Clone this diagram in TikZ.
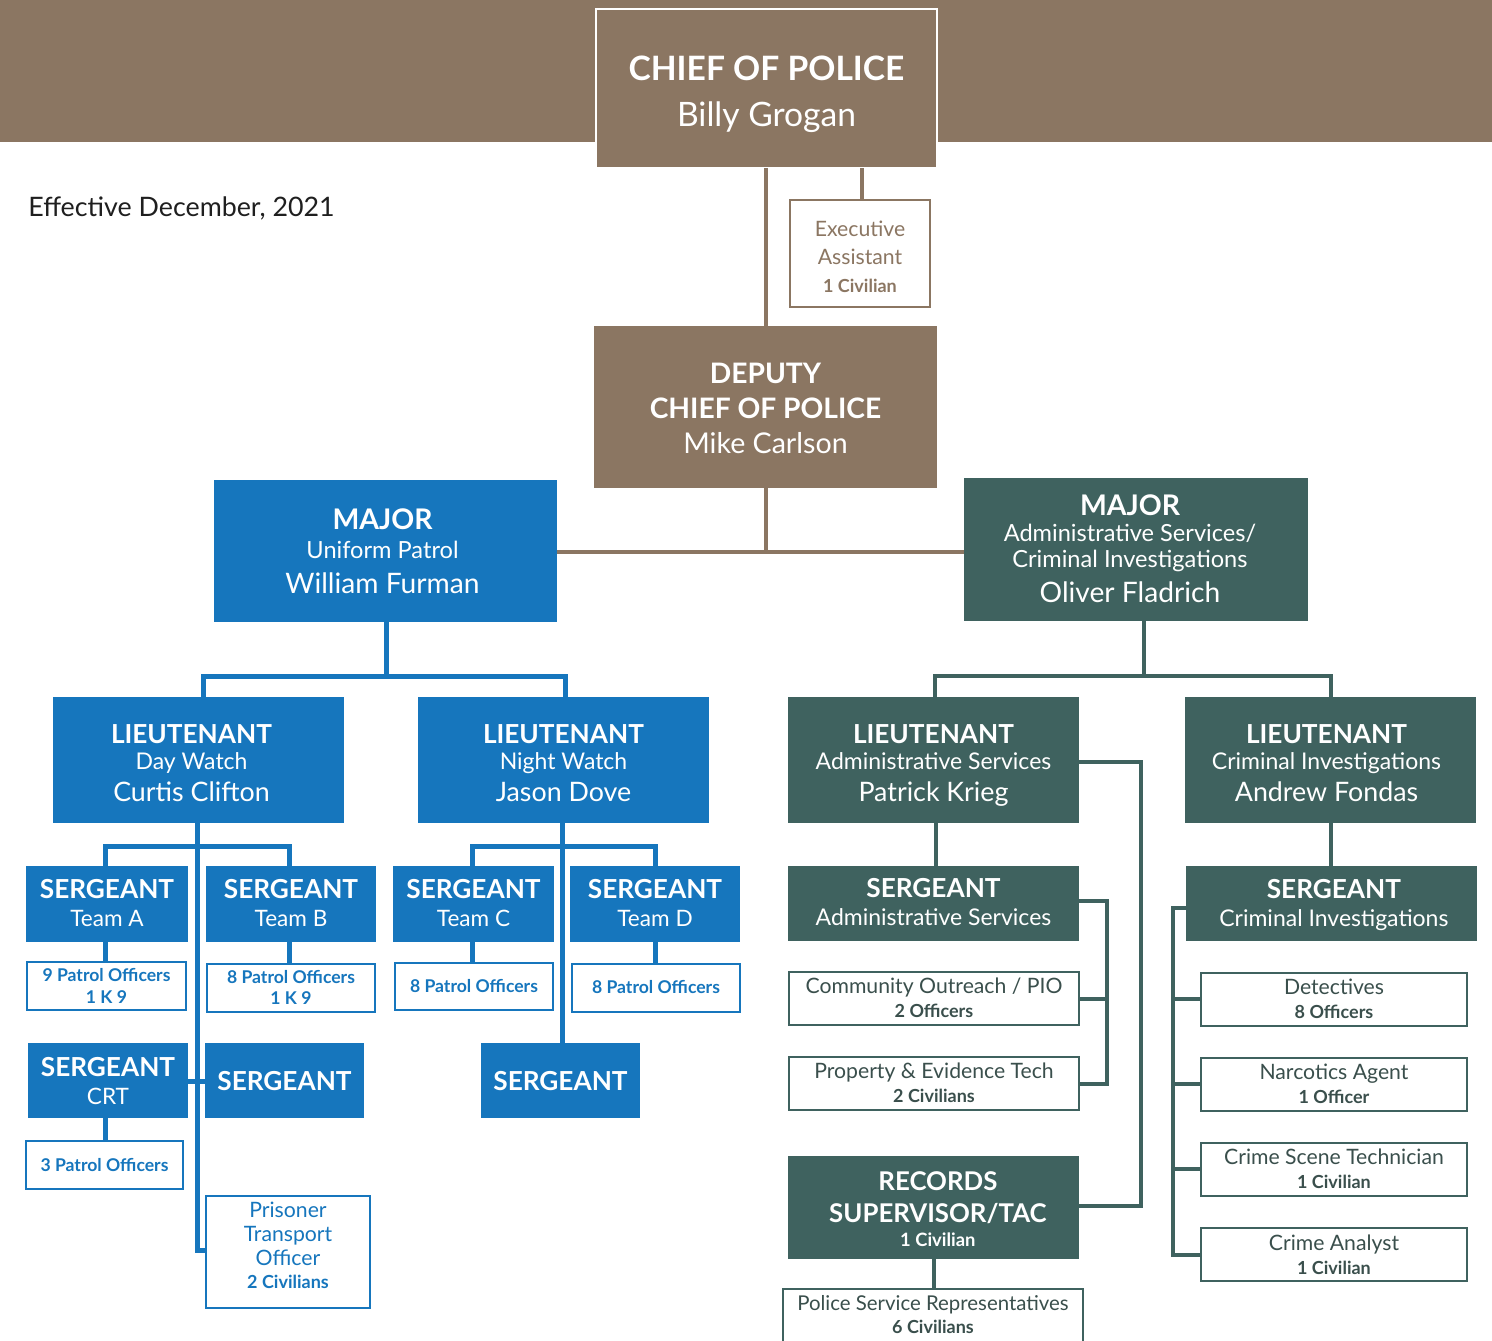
\documentclass[tikz,border=0pt]{standalone}
\usepackage{fontspec}
\setmainfont{Lato}
\definecolor{brn}{HTML}{8B7662}
\definecolor{blu}{HTML}{1676BD}
\definecolor{grn}{HTML}{3F625F}
\definecolor{grntxt}{HTML}{3A4F4C}
\newcommand\bx[6]{\node[#2, minimum width={(#5-#3)*0.5pt}, minimum height={(#6-#4)*0.5pt}] (#1) at ({(#3+#5)/2},{(#4+#6)/2}) {};}
\newcommand\tx[5]{\node[#2] (#1) at (#3.center |- 0,#4) {#5};}
\begin{document}
\begin{tikzpicture}[x=0.5pt,y=-0.5pt,
  box/.style={rectangle, inner sep=0pt, outer sep=0pt},
  fbrown/.style={box, fill=brn},
  fblue/.style={box, fill=blu},
  fgreen/.style={box, fill=grn},
  oblue/.style={box, draw=blu, line width=0.9pt, fill=white},
  ogreen/.style={box, draw=grn, line width=0.9pt, fill=white},
  obrown/.style={box, draw=brn, line width=1pt, fill=white},
  fs/.style={font={\fontsize{#1}{#1}\selectfont}, text height={0.72*#1pt}, text depth=0pt, inner sep=0pt, anchor=center},
  fb/.style={font={\fontsize{#1}{#1}\selectfont\bfseries}, text height={0.72*#1pt}, text depth=0pt, inner sep=0pt, anchor=center},
  lbrown/.style={draw=brn, line width=2pt},
  lblue/.style={draw=blu, line width=2.5pt},
  lgreen/.style={draw=grn, line width=2.4pt},
]
\useasboundingbox (0,0) rectangle (1492,1340);
\fill[brn] (0,0) rectangle (1492,142);

% ---------- boxes ----------
\bx{chief}{fbrown, draw=white, line width=1pt}{596}{9}{937}{168}
\bx{exec}{obrown}{790}{200}{930}{307}
\bx{deputy}{fbrown}{594}{326}{937}{488}
\bx{majL}{fblue}{214}{480}{557}{622}
\bx{majR}{fgreen}{964}{478}{1308}{621}
\bx{ltDay}{fblue}{53}{697}{344}{823}
\bx{ltNight}{fblue}{418}{697}{709}{823}
\bx{ltAdm}{fgreen}{788}{697}{1079}{823}
\bx{ltCrim}{fgreen}{1185}{697}{1476}{823}
\bx{sgtA}{fblue}{26}{866}{188}{942}
\bx{sgtB}{fblue}{206}{866}{376}{942}
\bx{sgtC}{fblue}{393}{866}{554}{942}
\bx{sgtD}{fblue}{570}{866}{740}{942}
\bx{pA}{oblue}{27}{962}{186}{1010}
\bx{pB}{oblue}{207}{964}{375}{1012}
\bx{pC}{oblue}{395}{963}{553}{1010}
\bx{pD}{oblue}{572}{964}{740}{1012}
\bx{sgtCRT}{fblue}{28}{1043}{188}{1118}
\bx{sgtX}{fblue}{205}{1043}{364}{1118}
\bx{sgtY}{fblue}{481}{1043}{640}{1118}
\bx{pCRT}{oblue}{26}{1141}{183}{1189}
\bx{prisoner}{oblue}{206}{1196}{370}{1308}
\bx{sgtAdm}{fgreen}{788}{866}{1079}{941}
\bx{community}{ogreen}{789}{972}{1079}{1025}
\bx{property}{ogreen}{789}{1057}{1079}{1110}
\bx{records}{fgreen}{788}{1156}{1079}{1259}
\bx{psr}{ogreen}{783}{1289}{1083}{1360}
\bx{sgtCrim}{fgreen}{1186}{866}{1477}{941}
\bx{det}{ogreen}{1201}{973}{1467}{1026}
\bx{narc}{ogreen}{1201}{1058}{1467}{1111}
\bx{cst}{ogreen}{1201}{1143}{1467}{1196}
\bx{analyst}{ogreen}{1201}{1228}{1467}{1281}

% ---------- connectors ----------
\draw[lbrown] (chief.south -| 766,0) -- (deputy.north -| 766,0);
\draw[lbrown] (chief.south -| 862,0) -- (exec.north -| 862,0);
\draw[lbrown] (deputy.south -| 766,0) -- (766,552);
\draw[lbrown] (majL.east |- 0,552) -- (majR.west |- 0,552);

\draw[lblue] (majL.south -| 386,0) -- (386,676);
\draw[lblue] (ltDay.north -| 203,0) -- (203,676) -- (565,676) -- (ltNight.north -| 565,0);
\draw[lblue] (ltDay.south -| 197,0) -- (197,1250) -- (prisoner.west |- 0,1250);
\draw[lblue] (sgtA.north -| 105,0) -- (105,846) -- (289,846) -- (sgtB.north -| 289,0);
\draw[lblue] (sgtA.south -| 105,0) -- (pA.north -| 105,0);
\draw[lblue] (sgtB.south -| 289,0) -- (pB.north -| 289,0);
\draw[lblue] (sgtCRT.east |- 0,1081) -- (sgtX.west |- 0,1081);
\draw[lblue] (sgtCRT.south -| 105,0) -- (pCRT.north -| 105,0);
\draw[lblue] (ltNight.south -| 562,0) -- (sgtY.north -| 562,0);
\draw[lblue] (sgtC.north -| 472,0) -- (472,846) -- (655,846) -- (sgtD.north -| 655,0);
\draw[lblue] (sgtC.south -| 472,0) -- (pC.north -| 472,0);
\draw[lblue] (sgtD.south -| 655,0) -- (pD.north -| 655,0);

\draw[lgreen] (majR.south -| 1144,0) -- (1144,676);
\draw[lgreen] (ltAdm.north -| 935,0) -- (935,676) -- (1331,676) -- (ltCrim.north -| 1331,0);
\draw[lgreen] (ltAdm.east |- 0,762) -- (1141,762) -- (1141,1206) -- (records.east |- 0,1206);
\draw[lgreen] (ltAdm.south -| 936,0) -- (sgtAdm.north -| 936,0);
\draw[lgreen] (sgtAdm.east |- 0,901) -- (1107,901) -- (1107,1084) -- (property.east |- 0,1084);
\draw[lgreen] (1107,999) -- (community.east |- 0,999);
\draw[lgreen] (records.south -| 934,0) -- (psr.north -| 934,0);
\draw[lgreen] (ltCrim.south -| 1331,0) -- (sgtCrim.north -| 1331,0);
\draw[lgreen] (sgtCrim.west |- 0,908) -- (1173,908) -- (1173,1255) -- (analyst.west |- 0,1255);
\draw[lgreen] (1173,999) -- (det.west |- 0,999);
\draw[lgreen] (1173,1084) -- (narc.west |- 0,1084);
\draw[lgreen] (1173,1169) -- (cst.west |- 0,1169);

% ---------- texts ----------
\node[fs=13.4, anchor=west, text=black!88] (eff) at (28,207) {Effective December, 2021};

\tx{chief1}{fb=16.8, text=white}{chief}{68}{CHIEF OF POLICE}
\tx{chief2}{fs=16.8, text=white}{chief}{114}{Billy Grogan}
\tx{exec1}{fs=10.6, text=brn}{exec}{229}{Executive}
\tx{exec2}{fs=10.6, text=brn}{exec}{257}{Assistant}
\tx{exec3}{fb=9, text=brn}{exec}{286}{1 Civilian}
\tx{dep1}{fb=14.1, text=white}{deputy}{373}{DEPUTY}
\tx{dep2}{fb=14.1, text=white}{deputy}{408}{CHIEF OF POLICE}
\tx{dep3}{fs=14.3, text=white}{deputy}{443}{Mike Carlson}

\tx{majL1}{fb=14.2, text=white, xshift=-1.5pt}{majL}{519}{MAJOR}
\tx{majL2}{fs=11.8, text=white, xshift=-1.5pt}{majL}{550}{Uniform Patrol}
\tx{majL3}{fs=14.1, text=white, xshift=-1.5pt}{majL}{583}{William Furman}
\tx{majR1}{fb=14.2, text=white, xshift=-3pt}{majR}{505}{MAJOR}
\tx{majR2}{fs=11.8, text=white, xshift=-3pt}{majR}{533}{Administrative Services/}
\tx{majR3}{fs=11.8, text=white, xshift=-3pt}{majR}{559}{Criminal Investigations}
\tx{majR4}{fs=14.1, text=white, xshift=-3pt}{majR}{592}{Oliver Fladrich}

\tx{ltDay1}{fb=13.1, text=white, xshift=-3.5pt}{ltDay}{734}{LIEUTENANT}
\tx{ltDay2}{fs=11.5, text=white, xshift=-3.5pt}{ltDay}{761}{Day Watch}
\tx{ltDay3}{fs=13.4, text=white, xshift=-3.5pt}{ltDay}{792}{Curtis Clifton}
\tx{ltNight1}{fb=13.1, text=white}{ltNight}{734}{LIEUTENANT}
\tx{ltNight2}{fs=11.5, text=white}{ltNight}{761}{Night Watch}
\tx{ltNight3}{fs=13.4, text=white}{ltNight}{792}{Jason Dove}
\tx{ltAdm1}{fb=13.1, text=white}{ltAdm}{734}{LIEUTENANT}
\tx{ltAdm2}{fs=11.5, text=white}{ltAdm}{761}{Administrative Services}
\tx{ltAdm3}{fs=13.4, text=white}{ltAdm}{792}{Patrick Krieg}
\tx{ltCrim1}{fb=13.1, text=white, xshift=-2pt}{ltCrim}{734}{LIEUTENANT}
\tx{ltCrim2}{fs=11.5, text=white, xshift=-2pt}{ltCrim}{761}{Criminal Investigations}
\tx{ltCrim3}{fs=13.4, text=white, xshift=-2pt}{ltCrim}{792}{Andrew Fondas}

\tx{sgtA1}{fb=13.1, text=white}{sgtA}{889}{SERGEANT}
\tx{sgtA2}{fs=11.3, text=white}{sgtA}{918}{Team A}
\tx{sgtB1}{fb=13.1, text=white}{sgtB}{889}{SERGEANT}
\tx{sgtB2}{fs=11.3, text=white}{sgtB}{918}{Team B}
\tx{sgtC1}{fb=13.1, text=white}{sgtC}{889}{SERGEANT}
\tx{sgtC2}{fs=11.3, text=white}{sgtC}{918}{Team C}
\tx{sgtD1}{fb=13.1, text=white}{sgtD}{889}{SERGEANT}
\tx{sgtD2}{fs=11.3, text=white}{sgtD}{918}{Team D}

\tx{pA1}{fb=8.8, text=blu}{pA}{975}{9 Patrol Officers}
\tx{pA2}{fb=8.8, text=blu}{pA}{997}{1 K 9}
\tx{pB1}{fb=8.8, text=blu}{pB}{977}{8 Patrol Officers}
\tx{pB2}{fb=8.8, text=blu}{pB}{998}{1 K 9}
\tx{pC1}{fb=8.8, text=blu}{pC}{986}{8 Patrol Officers}
\tx{pD1}{fb=8.8, text=blu}{pD}{987}{8 Patrol Officers}

\tx{crt1}{fb=13.1, text=white}{sgtCRT}{1067}{SERGEANT}
\tx{crt2}{fs=11.3, text=white}{sgtCRT}{1096}{CRT}
\tx{sgtX1}{fb=13.1, text=white}{sgtX}{1081}{SERGEANT}
\tx{sgtY1}{fb=13.1, text=white}{sgtY}{1081}{SERGEANT}
\tx{pCRT1}{fb=8.8, text=blu}{pCRT}{1165}{3 Patrol Officers}
\tx{pr1}{fs=10.6, text=blu}{prisoner}{1210}{Prisoner}
\tx{pr2}{fs=10.6, text=blu}{prisoner}{1234}{Transport}
\tx{pr3}{fs=10.6, text=blu}{prisoner}{1258}{Officer}
\tx{pr4}{fb=9, text=blu}{prisoner}{1282}{2 Civilians}

\tx{sgtAdm1}{fb=13.1, text=white}{sgtAdm}{888}{SERGEANT}
\tx{sgtAdm2}{fs=11.5, text=white}{sgtAdm}{917}{Administrative Services}
\tx{com1}{fs=10.6, text=grntxt}{community}{986}{Community Outreach / PIO}
\tx{com2}{fb=9, text=grntxt}{community}{1011}{2 Officers}
\tx{prop1}{fs=10.6, text=grntxt}{property}{1071}{Property \& Evidence Tech}
\tx{prop2}{fb=9, text=grntxt}{property}{1096}{2 Civilians}
\tx{rec1}{fb=12.9, text=white, xshift=2.2pt}{records}{1181}{RECORDS}
\tx{rec2}{fb=12.9, text=white, xshift=2.2pt}{records}{1213}{SUPERVISOR/TAC}
\tx{rec3}{fb=9.2, text=white, xshift=2.2pt}{records}{1240}{1 Civilian}
\node[fs=10.2, text=grntxt] (psr1) at (933,1303) {Police Service Representatives};
\node[fb=9, text=grntxt] (psr2) at (933,1327) {6 Civilians};

\tx{sgtCrim1}{fb=13.1, text=white, xshift=1.2pt}{sgtCrim}{889}{SERGEANT}
\tx{sgtCrim2}{fs=11.5, text=white, xshift=1.2pt}{sgtCrim}{918}{Criminal Investigations}
\tx{det1}{fs=10.6, text=grntxt}{det}{987}{Detectives}
\tx{det2}{fb=9, text=grntxt}{det}{1012}{8 Officers}
\tx{narc1}{fs=10.6, text=grntxt}{narc}{1072}{Narcotics Agent}
\tx{narc2}{fb=9, text=grntxt}{narc}{1097}{1 Officer}
\tx{cst1}{fs=10.6, text=grntxt}{cst}{1157}{Crime Scene Technician}
\tx{cst2}{fb=9, text=grntxt}{cst}{1182}{1 Civilian}
\tx{an1}{fs=10.6, text=grntxt}{analyst}{1243}{Crime Analyst}
\tx{an2}{fb=9, text=grntxt}{analyst}{1268}{1 Civilian}
\end{tikzpicture}
\end{document}
